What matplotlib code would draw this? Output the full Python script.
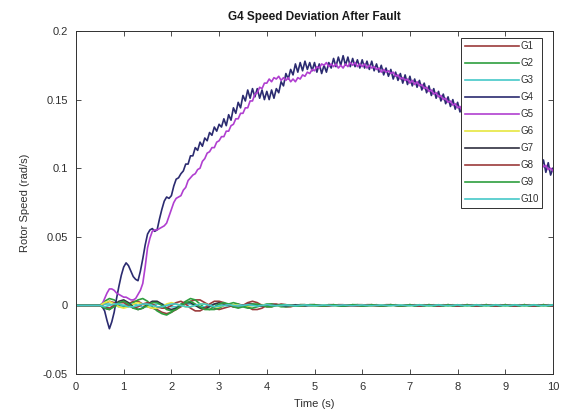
import numpy as np
import matplotlib
matplotlib.use("Agg")
import matplotlib.pyplot as plt

plt.rcParams['font.family'] = ['Liberation Sans', 'DejaVu Sans']

# ---------------- data (rad/s x 1e-3) ----------------
labels = ["G1", "G2", "G3", "G4", "G5", "G6", "G7", "G8", "G9", "G10"]

# dense series (0.05 s step, 0..10 s)
g4 = [0, 0, 0, 0, 0, 0, 0, 0, 0, 0, 0,
      -1, -4, -11, -17, -12, -5, 5, 14, 22, 28,
      31, 29, 25, 21, 19, 18, 25, 34, 44, 52,
      55, 56, 54, 55, 63, 70, 76, 79, 78, 80,
      87, 92, 93, 96, 98, 103, 103, 109, 109, 115,
      113, 119, 116, 122, 120, 126, 124, 130, 127, 132,
      130, 136, 131, 139, 135, 144, 140, 148, 144, 153,
      149, 157, 151, 158, 152, 158, 151, 157, 150, 156,
      150, 157, 151, 158, 155, 163, 160, 169, 165, 172,
      168, 176, 170, 177, 171, 178, 172, 177, 171, 177,
      170, 176, 169, 175, 170, 177, 173, 180, 174, 181,
      175, 182, 175, 181, 174, 180, 174, 179, 173, 179,
      173, 178, 172, 178, 171, 176, 170, 175, 168, 173,
      167, 172, 165, 170, 164, 169, 162, 168, 161, 167,
      160, 165, 159, 164, 157, 162, 155, 160, 153, 158,
      151, 156, 149, 154, 147, 152, 145, 150, 143, 148,
      141, 146, 138, 143, 136, 141, 133, 138, 131, 136,
      128, 133, 126, 131, 123, 128, 121, 126, 118, 123,
      116, 121, 113, 118, 111, 116, 108, 113, 106, 111,
      104, 109, 102, 107, 100, 106, 97, 104, 95, 100]

g5 = [0, 0, 0, 0, 0, 0, 0, 0, 0, 0, 0,
      1, 5, 9, 12, 12, 11, 9, 8, 7, 6,
      6, 5, 4, 4, 5, 8, 11, 16, 28, 42,
      49, 54, 55, 55, 56, 57, 58, 60, 65, 70,
      75, 78, 79, 80, 84, 86, 91, 93, 95, 96,
      99, 100, 105, 107, 111, 112, 115, 115, 119, 120,
      123, 123, 127, 127, 131, 132, 136, 136, 140, 140,
      144, 144, 149, 149, 154, 155, 159, 158, 162, 162,
      165, 163, 166, 165, 167, 164, 166, 164, 166, 163,
      165, 163, 166, 165, 168, 167, 170, 169, 172, 171,
      174, 173, 176, 175, 177, 174, 176, 174, 176, 173,
      175, 173, 176, 174, 177, 175, 177, 174, 176, 174,
      176, 173, 175, 173, 174, 172, 173, 170, 172, 170,
      171, 169, 170, 167, 168, 165, 166, 164, 165, 162,
      164, 161, 163, 160, 161, 158, 159, 156, 157, 154,
      155, 152, 153, 150, 151, 148, 149, 146, 147, 144,
      145, 141, 142, 139, 140, 136, 137, 134, 135, 131,
      132, 129, 130, 126, 127, 124, 125, 121, 122, 119,
      120, 116, 117, 114, 115, 111, 112, 109, 110, 107,
      108, 105, 106, 103, 104, 101, 102, 99, 100, 98]

# coarse series (0.1 s step, 0..10 s)
g1 = [0, 0, 0, 0, 0, 0,
      1, 3, 2, 0, -1, 1, 3, 3, 1, -1, -2, -3, -5, -6, -5,
      -3, -1, 1, 3, 4, 4, 2, 0, -2, -3, -2, -1, 0, 1, 0,
      -1, -3, -3, -2, 0, 1, 1, 0, -1, -1, 0, 0.5, 0.5, 0, -0.5,
      -0.5, 0, 0.5, 0.5, 0, -0.5, -0.5, 0, 0.5, 0.5,
      0, -0.5, -0.5, 0, 0.5, 0.5, 0, -0.5, 0, 0.5,
      0, -0.5, 0, 0.5, 0, -0.5, 0, 0.5, 0, -0.5,
      0, 0.5, 0, -0.5, 0, 0.5, 0, -0.5, 0, 0.5,
      0, -0.5, 0, 0.5, 0, -0.5, 0, 0.5, 0, -0.5]
g2 = [0, 0, 0, 0, 0, 0,
      3, 5, 4, 1, -1, 0, 2, 4, 5, 3, -1, -4, -6, -7, -5,
      -2, 1, 3, 5, 4, 1, -2, -3, -3, -2, 0, 1, 2, 1, -1,
      -2, -2, -1, 0, 1, 1, 0, -1, -1, -0.5, 0, 0.5, 0.5, 0, -0.5,
      -0.5, 0, 0.5, 0, -0.5, -0.5, 0, 0.5, 0.5, 0,
      -0.5, 0, 0.5, 0, -0.5, 0, 0.5, 0, -0.5, 0,
      0.5, -0.5, 0.5, -0.5, 0.5, -0.5, 0.5, -0.5, 0.5, -0.5,
      0.5, -0.5, 0.5, -0.5, 0.5, -0.5, 0.5, -0.5, 0.5, -0.5,
      0.5, -0.5, 0.5, -0.5, 0.5, -0.5, 0.5, -0.5, 0.5, -0.5]
g3 = [0, 0, 0, 0, 0, 0,
      1, 1, 0, -1, 0, 1, 1, 0, -1, -1, 0, 1, 1, 0, -1,
      -1, 0, 1, 1, 0, -1, -1, 0, 1, 0.5, 0, -0.5, 0, 0.5, 0,
      -0.5, 0, 0.5, 0, -0.5,
      0, 0.5, 0, -0.5, 0, 0.5, 0, -0.5, 0, 0.5,
      0, -0.5, 0, 0.5, 0, -0.5, 0, 0.5, 0, -0.5,
      0, 0.5, 0, -0.5, 0, 0.5, 0, -0.5, 0, 0.5,
      0, -0.5, 0, 0.5, 0, -0.5, 0, 0.5, 0, -0.5,
      0, 0.5, 0, -0.5, 0, 0.5, 0, -0.5, 0, 0.5,
      0, -0.5, 0, 0.5, 0, -0.5, 0, 0.5, 0, -0.5]
g6 = [0, 0, 0, 0, 0, 0,
      2, 3, 1, -1, -2, -1, 1, 2, 1, -1, -2, -2, -1, 1, 2,
      1, 0, -1, -1, 0, 1, 1, 0, -1, -1, 0, 0.5, 0.5, 0, -0.5,
      -0.5, 0, 0.5, 0.5, 0,
      0, -0.2, 0, 0.2, 0, -0.2, 0, 0.2, 0, -0.2,
      0, 0.2, 0, -0.2, 0, 0.2, 0, -0.2, 0, 0.2,
      0, -0.2, 0, 0.2, 0, -0.2, 0, 0.2, 0, -0.2,
      0, 0.2, 0, -0.2, 0, 0.2, 0, -0.2, 0, 0.2,
      0, -0.2, 0, 0.2, 0, -0.2, 0, 0.2, 0, -0.2,
      0, 0.2, 0, -0.2, 0, 0.2, 0, -0.2, 0, 0.2]
g7 = [0, 0, 0, 0, 0, 0,
      -2, -3, 0, 3, 4, 2, -1, -3, -2, 1, 3, 3, 1, -2, -3,
      -2, 0, 2, 2, 0, -2, -2, -1, 1, 2, 1, 0, -1, -1, 0,
      1, 1, 0, -0.5, -0.5,
      0, 0.3, 0, -0.3, 0, 0.3, 0, -0.3, 0, 0.3,
      0, -0.3, 0, 0.3, 0, -0.3, 0, 0.3, 0, -0.3,
      0, 0.3, 0, -0.3, 0, 0.3, 0, -0.3, 0, 0.3,
      0, -0.3, 0, 0.3, 0, -0.3, 0, 0.3, 0, -0.3,
      0, 0.3, 0, -0.3, 0, 0.3, 0, -0.3, 0, 0.3,
      0, -0.3, 0, 0.3, 0, -0.3, 0, 0.3, 0, -0.3]
g8 = [0, 0, 0, 0, 0, 0,
      -1, -2, 0, 2, 2, 0, -2, -1, 1, 2, 1, -1, -2, -2, 0,
      2, 3, 1, -2, -4, -4, -2, 1, 3, 3, 2, 0, -1, -1, 0,
      2, 3, 2, 0, -1, -1, 0, 1, 0.5, 0, -0.5, -0.5, 0, 0.5, 0.5,
      0, -0.5, -0.5, 0, 0.5, 0.5, 0, -0.5, -0.5, 0,
      0.5, 0.5, 0, -0.5, 0, 0.5, 0, -0.5, 0, 0.5,
      0, -0.5, 0, 0.5, 0, -0.5, 0, 0.5, 0, -0.5,
      0, 0.5, 0, -0.5, 0, 0.5, 0, -0.5, 0, 0.5,
      0, -0.5, 0, 0.5, 0, -0.5, 0, 0.5, 0, -0.5]
g9 = [0, 0, 0, 0, 0, 0,
      -2, -3, -1, 2, 3, 1, -2, -3, -2, 0, 2, 2, 0, -3, -4,
      -3, 0, 2, 3, 1, -1, -3, -3, -1, 1, 2, 1, -1, -2, -1,
      0, 1, 1, 0, -1, -1, 0, 0.5, 0.5, 0, -0.5, -0.5, 0, 0.5, 0.5,
      0, -0.5, 0, 0.5, 0, -0.5, 0, 0.5, 0, -0.5,
      0, 0.5, 0, -0.5, 0, 0.5, 0, -0.5, 0, 0.5,
      -0.5, 0.5, -0.5, 0.5, -0.5, 0.5, -0.5, 0.5, -0.5, 0.5,
      -0.5, 0.5, -0.5, 0.5, -0.5, 0.5, -0.5, 0.5, -0.5, 0.5,
      -0.5, 0.5, -0.5, 0.5, -0.5, 0.5, -0.5, 0.5, -0.5, 0.5]
g10 = [0, 0, 0, 0, 0, 0,
       -1, 0, 1, 1, 0, -1, -1, 0, 1, 1, 0, -1, -1, 0, 1,
       1, 0, -1, -1, 0, 1, 1, 0, -1, -0.5, 0, 0.5, 0, -0.5, 0,
       0.5, 0, -0.5, 0, 0.5,
       0, -0.3, 0, 0.3, 0, -0.3, 0, 0.3, 0, -0.3,
       0, 0.3, 0, -0.3, 0, 0.3, 0, -0.3, 0, 0.3,
       0, -0.3, 0, 0.3, 0, -0.3, 0, 0.3, 0, -0.3,
       0, 0.3, 0, -0.3, 0, 0.3, 0, -0.3, 0, 0.3,
       0, -0.3, 0, 0.3, 0, -0.3, 0, 0.3, 0, -0.3,
       0, 0.3, 0, -0.3, 0, 0.3, 0, -0.3, 0, 0.3]

series = [g1, g2, g3, g4, g5, g6, g7, g8, g9, g10]
colors = ['#9b3b3b', '#2e9e3e', '#46c8c8', '#2b2b70', '#b03fd0',
          '#e6e640', '#303040', '#9b3b3b', '#2e9e3e', '#46c8c8']

xticks = [0, 1, 2, 3, 4, 5, 6, 7, 8, 9, 10]
yticks = [-0.05, 0, 0.05, 0.1, 0.15, 0.2]
ytick_labels = ["-0.05", "0", "0.05", "0.1", "0.15", "0.2"]

# ---------------- figure ----------------
fig = plt.figure(figsize=(5.65, 4.17), dpi=100)
ax = fig.add_axes([76 / 565, 1 - 374 / 417, (553 - 76) / 565, (374 - 31) / 417])

for lab, vals, col in zip(labels, series, colors):
    v = np.asarray(vals, dtype=float) * 1e-3
    t = np.linspace(0, 10, len(v))
    ax.plot(t, v, color=col, lw=1.2, label=lab)

ax.set_xlim(0, 10)
ax.set_ylim(-0.05, 0.2)
ax.set_xticks(xticks)
ax.set_xticklabels([str(x) for x in xticks])
ax.set_yticks(yticks)
ax.set_yticklabels(ytick_labels)

tc = '#303030'
ax.tick_params(direction='in', top=True, right=True, length=3.5, width=0.6,
               color=tc, labelcolor=tc, labelsize=8)
ax.tick_params(axis='x', pad=6)
ax.tick_params(axis='y', pad=6)
for s in ax.spines.values():
    s.set_color(tc)
    s.set_linewidth(0.7)

ax.set_title("G4 Speed Deviation After Fault", fontsize=8.5, fontweight='bold',
             color='#1a1a1a', pad=8)
ax.set_xlabel("Time (s)", fontsize=8, color=tc, labelpad=5)
ax.set_ylabel("Rotor Speed (rad/s)", fontsize=8, color=tc, labelpad=9)

leg = ax.legend(loc='upper right', bbox_to_anchor=((542 - 76) / 477, (374 - 38) / 343),
                borderaxespad=0, fontsize=7, handlelength=5.6, labelspacing=0.72,
                handletextpad=0.1, borderpad=0.35, fancybox=False, framealpha=1,
                edgecolor=tc)
leg.get_frame().set_linewidth(0.7)
for txt in leg.get_texts():
    txt.set_color(tc)

fig.savefig("out.png", dpi=100)
